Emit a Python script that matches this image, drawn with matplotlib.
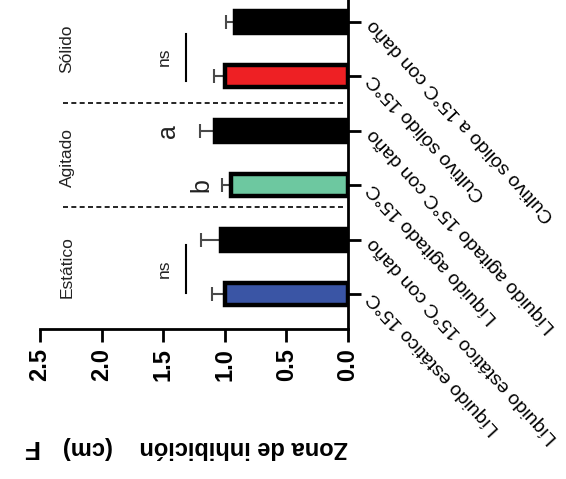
import numpy as np
import matplotlib
matplotlib.use("Agg")
import matplotlib.pyplot as plt

plt.rcParams['font.family'] = ['Liberation Sans', 'DejaVu Sans']

# Inhibition zone per condition (cm), mean and upper error
conditions = ["Líquido estático 15°C",
              "Líquido estático 15°C con daño",
              "Líquido agitado 15°C",
              "Líquido agitado 15°C con daño",
              "Cultivo sólido 15°C",
              "Cultivo sólido a 15°C con daño"]
zona = [1.00, 1.03, 0.95, 1.08, 1.00, 0.92]
error = [0.10, 0.16, 0.07, 0.12, 0.09, 0.07]
colores = ["#3a55a5", "#000000", "#6dc8a0", "#000000", "#ee2024", "#000000"]

grupos = ["Estático", "Agitado", "Sólido"]
ticks_x = [0.0, 0.5, 1.0, 1.5, 2.0, 2.5]
tick_lbls = ["0.0", "0.5", "1.0", "1.5", "2.0", "2.5"]

fig = plt.figure(figsize=(5.66, 4.79), dpi=100)
ax = fig.add_axes([40/566, 1 - 329/479, 308/566, 329/479])

pos = np.arange(len(conditions))

# error bars go under the bars so only the outer whisker shows
ax.errorbar(zona, pos, xerr=[np.zeros(len(zona)), error], fmt='none',
            ecolor='#4a4a4a', elinewidth=1.5, capsize=5, capthick=1.5, zorder=1)
ax.barh(pos, zona, height=0.41, color=colores, edgecolor='black',
        linewidth=3.2, zorder=2)

ax.set_xlim(2.5, 0)
ax.set_ylim(-0.64, 5.40)

# dashed separators between culture types
for yy in [1.6, 3.5]:
    ax.plot([2.31, 0.02], [yy, yy], color='black', lw=1.2,
            ls=(0, (3, 2)), zorder=3)

# group names
for i, g in enumerate(grupos):
    ax.text(2.28, 2*i + 0.5, g, rotation=90, ha='center', va='center',
            fontsize=12.5, color='#222222')

# significance marks
for y0, y1 in [(0.02, 0.91), (3.92, 4.78)]:
    ax.plot([1.315, 1.315], [y0, y1], color='black', lw=1.5)
    ax.text(1.49, (y0 + y1)/2, "ns", rotation=90, ha='center', va='center',
            fontsize=12.5, color='#222222')
ax.text(1.46, 3, "a", rotation=90, ha='center', va='center', fontsize=18,
        color='#222222')
ax.text(1.19, 2, "b", rotation=90, ha='center', va='center', fontsize=18,
        color='#222222')

# axes styling
for s in ['top', 'left']:
    ax.spines[s].set_visible(False)
ax.spines['bottom'].set_linewidth(2)
ax.spines['right'].set_linewidth(2)

ax.set_xticks(ticks_x)
ax.set_xticklabels(tick_lbls, rotation=90, fontsize=17, fontweight='bold')
ax.tick_params(axis='x', length=9.5, width=2, pad=4)

ax.yaxis.tick_right()
ax.set_yticks(pos)
ax.set_yticklabels(conditions, rotation=132.5, ha='right', va='center',
                   rotation_mode='anchor', fontsize=14)
ax.tick_params(axis='y', length=9.5, width=2, pad=7)

fig.text(205/566, 1 - 447/479, "Zona de inhibición    (cm)", rotation=180,
         ha='center', va='center', fontsize=17, fontweight='bold')
fig.text(30/566, 1 - 447/479, "F", rotation=180, ha='center', va='center',
         fontsize=19, fontweight='bold')

fig.savefig("out.png", dpi=100)
